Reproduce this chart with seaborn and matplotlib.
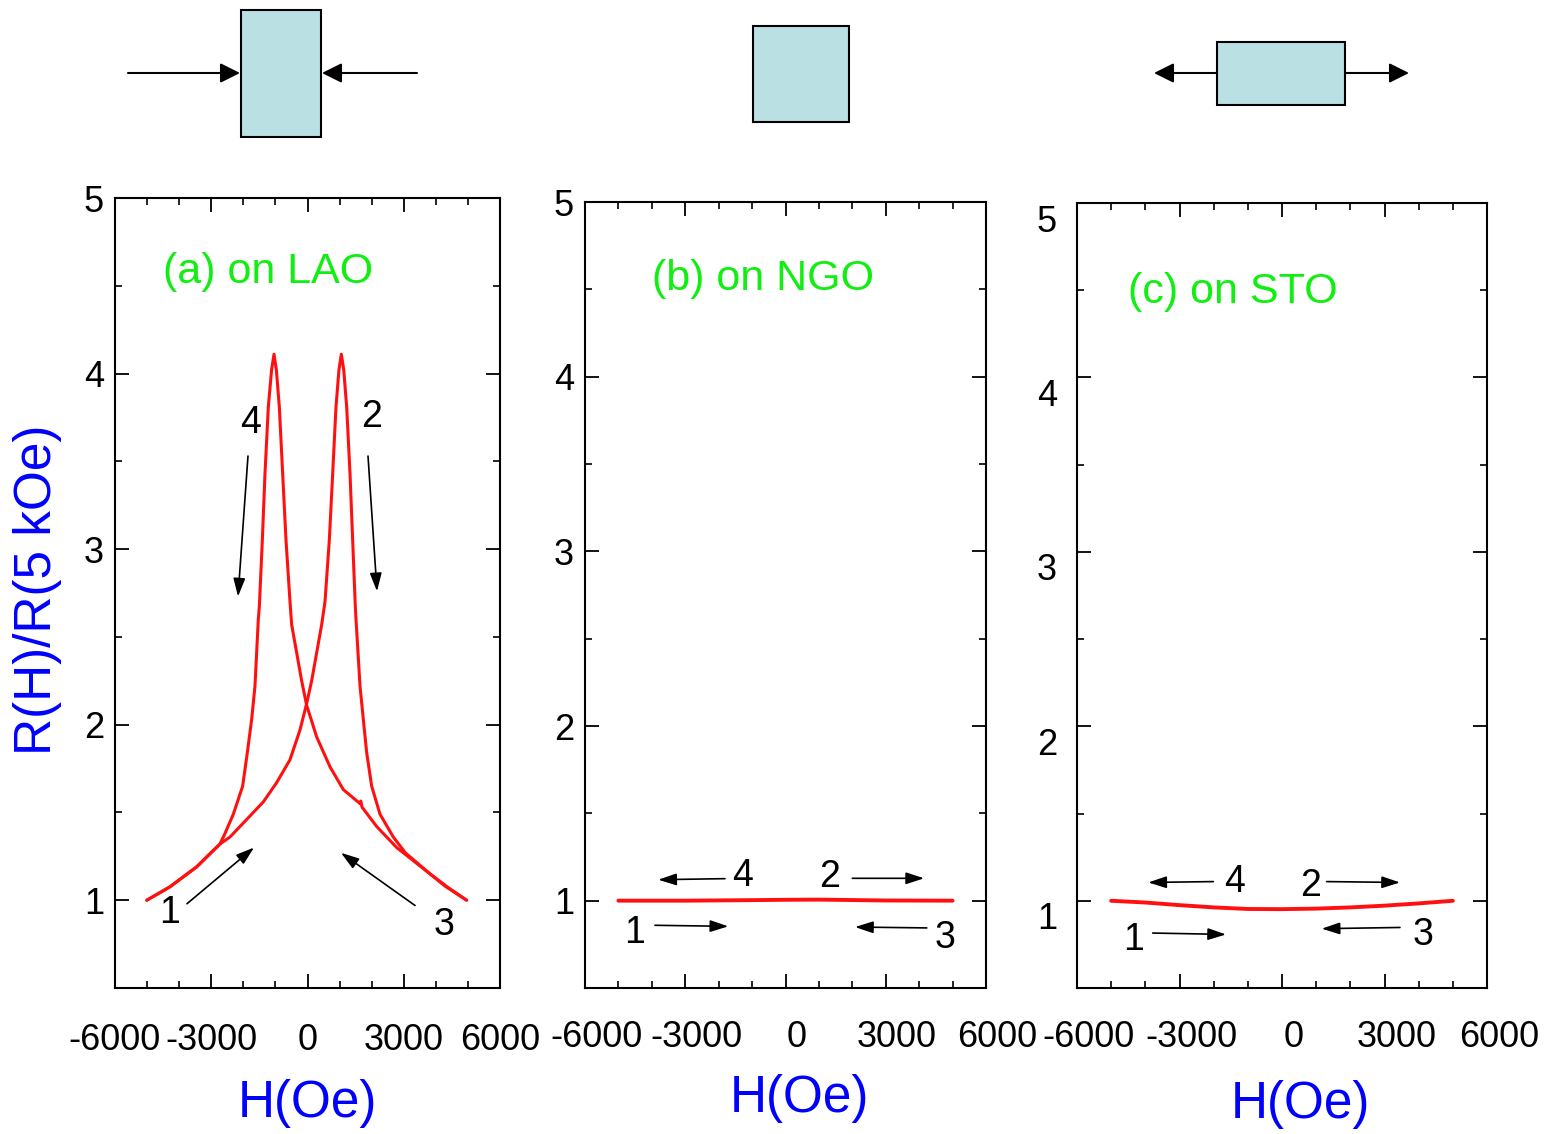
import matplotlib
matplotlib.use("Agg")
import matplotlib.pyplot as plt
import matplotlib.transforms as mtransforms
from matplotlib.patches import Rectangle
from matplotlib.ticker import MultipleLocator
import seaborn as sns

# (a) LAO: field sweep -5 kOe -> +5 kOe (branch 1-2)
h_lao_up = [-5010, -4290, -3455, -2730, -2416, -1896, -1377, -961, -546, -234,
            -26, 130, 286, 442, 545, 680, 785, 888, 980, 1054, 1130, 1221,
            1325, 1408, 1491, 1512, 1637, 1740, 1845, 2000, 2260, 2675, 3050,
            3820, 4400, 4960]
r_lao_up = [1.00, 1.076, 1.19, 1.32, 1.36, 1.46, 1.56, 1.67, 1.80, 1.97,
            2.12, 2.25, 2.41, 2.57, 2.70, 3.05, 3.43, 3.81, 4.02, 4.11, 4.02, 3.81,
            3.43, 3.05, 2.67, 2.60, 2.22, 2.03, 1.84, 1.65, 1.49, 1.36, 1.27,
            1.15, 1.07, 1.00]
# +5 kOe -> -5 kOe (branch 3-4)
h_lao_down = [4960, 4290, 3820, 2780, 2156, 1700, 1660, 1640, 1117, 701, 286,
              -26, -182, -338, -494, -545, -670, -774, -878, -970, -1044,
              -1120, -1221, -1325, -1408, -1502, -1533, -1637, -1740, -1876,
              -2021, -2312, -2572, -2730, -3455, -4290, -5010]
r_lao_down = [1.00, 1.08, 1.15, 1.30, 1.42, 1.53, 1.565, 1.55, 1.63, 1.76, 1.93,
              2.11, 2.25, 2.41, 2.57, 2.70, 3.05, 3.43, 3.81, 4.02, 4.11,
              4.02, 3.81, 3.43, 3.05, 2.67, 2.60, 2.22, 2.03, 1.84,
              1.65, 1.49, 1.38, 1.32, 1.19, 1.076, 1.00]

# (b) NGO
h_ngo = [-5000, -3000, -1000, 0, 1000, 3000, 5000]
r_ngo = [1.000, 1.000, 1.003, 1.005, 1.006, 1.001, 1.000]

# (c) STO
h_sto = [-5000, -4000, -3000, -2000, -1000, 0, 1000, 2000, 3000, 4000, 5000]
r_sto = [1.000, 0.990, 0.975, 0.962, 0.953, 0.952, 0.955, 0.962, 0.972, 0.985, 1.000]

panel_titles = ["(a) on LAO", "(b) on NGO", "(c) on STO"]
x_ticks = [-6000, -3000, 0, 3000, 6000]
y_ticks = [1, 2, 3, 4, 5]

sns.set_theme(style="ticks")
plt.rcParams["font.family"] = ["Liberation Sans", "DejaVu Sans"]
plt.rcParams["axes.unicode_minus"] = False

W, H = 1549, 1134
fig = plt.figure(figsize=(W / 100, H / 100), dpi=100)

# pixel boxes of the three panels: left, top, right, bottom
boxes = [(115, 198, 500, 988), (585, 202, 986, 988), (1077, 203, 1487, 988)]
axes = []
for (l, t, r, b) in boxes:
    ax = fig.add_axes([l / W, 1 - b / H, (r - l) / W, (b - t) / H])
    axes.append(ax)

red = "#ff1010"
green = "#11ee11"
blue = "#0000ff"

sns.lineplot(x=h_lao_up, y=r_lao_up, sort=False, estimator=None, color=red, lw=2.2, ax=axes[0])
sns.lineplot(x=h_lao_down, y=r_lao_down, sort=False, estimator=None, color=red, lw=2.2, ax=axes[0])
sns.lineplot(x=h_ngo, y=r_ngo, sort=False, estimator=None, color=red, lw=2.8, ax=axes[1])
sns.lineplot(x=h_sto, y=r_sto, sort=False, estimator=None, color=red, lw=2.8, ax=axes[2])

for ax in axes:
    ax.set_xlim(-6000, 6000)
    ax.set_ylim(0.5, 5)
    ax.set_xticks(x_ticks)
    ax.set_yticks(y_ticks)
    ax.xaxis.set_minor_locator(MultipleLocator(1000))
    ax.yaxis.set_minor_locator(MultipleLocator(0.5))
    ax.tick_params(which="both", direction="in", top=True, right=True, color="black")
    ax.tick_params(which="major", length=10, width=1.3, labelsize=26, labelcolor="black")
    ax.tick_params(which="minor", length=5, width=1.2)
    ax.tick_params(axis="x", which="major", pad=25)
    ax.tick_params(axis="y", which="major", pad=8)
    for sp in ax.spines.values():
        sp.set_linewidth(1.5)
        sp.set_color("black")
    ax.grid(False)

# panel texts
title_pos = [(-4500, 4.58), (-4000, 4.56), (-4500, 4.49)]
for ax, title, (tx, ty) in zip(axes, panel_titles, title_pos):
    ax.text(tx, ty, title, color=green, fontsize=31, va="center", ha="left")

num_kw = dict(fontsize=27, color="black", ha="center", va="center")
arr_kw = dict(arrowstyle="-|>,head_length=0.55,head_width=0.18", color="black",
              lw=1.2, shrinkA=0, shrinkB=0, mutation_scale=20)

# (a)
a = axes[0]
for s, (x, y) in zip("4213", [(-1790, 3.72), (2010, 3.75), (-4290, 0.93), (4260, 0.86)]):
    a.text(x, y, s, **num_kw)
for (x0, y0, x1, y1) in [(-1855, 3.53, -2166, 2.73), (1886, 3.53, 2166, 2.76),
                         (-3756, 0.98, -1668, 1.30), (3351, 0.97, 1044, 1.27)]:
    a.annotate("", xy=(x1, y1), xytext=(x0, y0), arrowprops=arr_kw)

# (b)
b = axes[1]
for s, (x, y) in zip("4213", [(-1281, 1.143), (1332, 1.133), (-4506, 0.815), (4775, 0.786)]):
    b.text(x, y, s, **num_kw)
for (x0, y0, x1, y1) in [(-1811, 1.126, -3808, 1.12), (2000, 1.128, 4147, 1.128),
                         (-3907, 0.859, -1713, 0.853), (4228, 0.844, 2081, 0.849)]:
    b.annotate("", xy=(x1, y1), xytext=(x0, y0), arrowprops=arr_kw)

# (c)
c = axes[2]
for s, (x, y) in zip("4213", [(-1376, 1.11), (840, 1.082), (-4351, 0.777), (4136, 0.805)]):
    c.text(x, y, s, **num_kw)
for (x0, y0, x1, y1) in [(-2010, 1.11, -3913, 1.105), (1307, 1.11, 3453, 1.105),
                         (-3785, 0.815, -1639, 0.807), (3453, 0.847, 1162, 0.84)]:
    c.annotate("", xy=(x1, y1), xytext=(x0, y0), arrowprops=arr_kw)

# axis labels
axes[0].set_ylabel("R(H)/R(5 kOe)", color=blue, fontsize=37)
axes[0].yaxis.set_label_coords(-0.2, 0.504)
axes[0].yaxis.label.set_va("center")
for ax, (lx, ly) in zip(axes, [(0.501, -0.146), (0.536, -0.14), (0.544, -0.149)]):
    ax.set_xlabel("H(Oe)", color=blue, fontsize=37)
    ax.xaxis.set_label_coords(lx, ly)
    ax.xaxis.label.set_va("center")
for ax in axes[1:]:
    ax.set_ylabel("")


def shift_labels(ticks, dx, dy):
    off = mtransforms.ScaledTranslation(dx / 100, -dy / 100, fig.dpi_scale_trans)
    for tk in ticks:
        tk.label1.set_transform(tk.label1.get_transform() + off)


# tick labels of (b) and (c) sit a little off their ticks, as in the original
shift_labels(b.xaxis.get_major_ticks(), 11, -3)
shift_labels(c.xaxis.get_major_ticks(), 12, -3)
shift_labels(c.yaxis.get_major_ticks(), -9, 15)

# strain sketches above the panels
top = fig.add_axes([0, 0, 1, 1], zorder=-1)
top.set_xlim(0, W)
top.set_ylim(H, 0)
top.axis("off")
top.patch.set_alpha(0)
box_color = "#bae0e3"
for (x0, y0, x1, y1) in [(241, 10, 321, 137), (753, 26, 849, 122), (1217, 42, 1345, 105)]:
    top.add_patch(Rectangle((x0, y0), x1 - x0, y1 - y0, facecolor=box_color,
                            edgecolor="black", lw=1.5))
big_arr = dict(arrowstyle="-|>,head_length=0.6,head_width=0.3", color="black",
               lw=1.5, shrinkA=0, shrinkB=0, mutation_scale=20)
for (x0, x1) in [(128, 240), (417, 322), (1217, 1154), (1345, 1409)]:
    top.annotate("", xy=(x1, 73), xytext=(x0, 73), arrowprops=big_arr)

plt.savefig("out.png", dpi=100)
